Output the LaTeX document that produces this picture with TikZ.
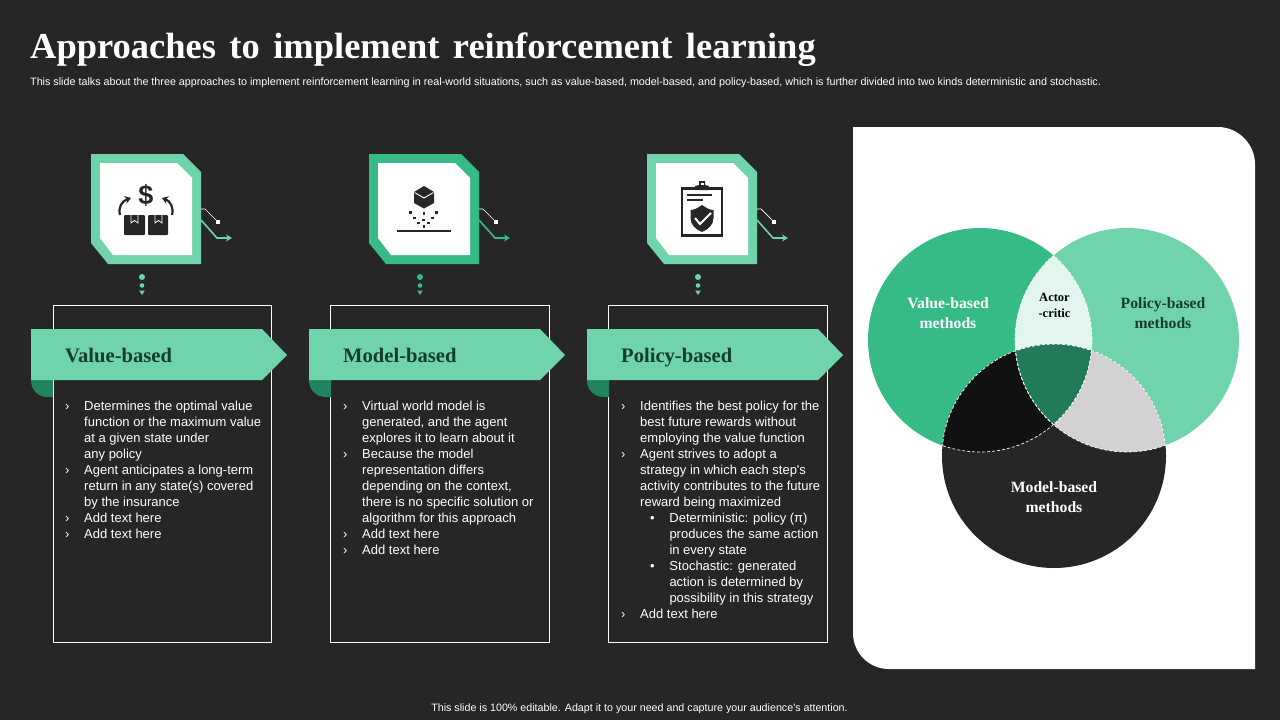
\documentclass[tikz,border=0pt]{standalone}
\usepackage{fontspec}
\setmainfont{Liberation Serif}
\newfontfamily\bodysans{Liberation Sans}
\usetikzlibrary{arrows.meta}
\definecolor{bgdark}{HTML}{262626}
\definecolor{lightgreen}{HTML}{6FD4AC}
\definecolor{midgreen}{HTML}{36BB87}
\definecolor{deepgreen}{HTML}{23835F}
\definecolor{inkgreen}{HTML}{163C2D}
\definecolor{lensgreen}{HTML}{E2F5EE}
\definecolor{lensblack}{HTML}{111111}
\definecolor{lensgrey}{HTML}{D2D2D2}
\definecolor{lenscore}{HTML}{217A58}
\newcommand{\bl}{\makebox[19pt][l]{›}}
\newcommand{\ct}{\hspace*{19pt}}
\newcommand{\sbl}{\hspace*{29pt}\makebox[19.3pt][l]{•}}
\newcommand{\sct}{\hspace*{48.3pt}}
\newcommand{\frameicon}[1]{%
  \fill[#1] (91,154) -- (183,154) -- (201,172) -- (201,264) -- (108,264) -- (91,243) -- cycle;
  \fill[white] (100,163) -- (177,163) -- (192,178) -- (192,255) -- (113,255) -- (100,238) -- cycle;
  \coordinate (wa) at (201,209);
  \coordinate (wb) at (205,209);
  \node[endsquare] (ws) at (218,222) {};
  \draw[linkwhite] (wa) -- (wb) -- (ws);
  \coordinate (ga) at (201,220);
  \coordinate (gb) at (217,238);
  \coordinate (gc) at (232,238);
  \draw[linkgreen=#1] (ga) -- (gb) -- (gc);
  \fill[#1] (142,277) circle (3pt);
  \fill[#1] (142,285.5) circle (2.3pt);
  \fill[#1] (139.2,290.5) -- (144.8,290.5) -- (142,295) -- cycle;
}
\newcommand{\ribbon}[3]{%
  \draw[panelline] (#3,305.5) rectangle (271.5,642);
  \fill[deepgreen] (31,378) -- (53,378) -- (53,397) -- (48,397) .. controls (38,397) and (31,390) .. (31,380) -- cycle;
  \fill[lightgreen] (31,329) -- (262,329) -- (287,355) -- (262,380) -- (31,380) -- cycle;
  \node[ribbontext] (#1) at (65,362) {#2};
}
\tikzset{
  endsquare/.style={fill=white,draw=none,minimum size=3.8pt,inner sep=0pt},
  linkwhite/.style={white,line width=.7pt},
  linkgreen/.style={#1,line width=1.6pt,-{Stealth[length=6pt,width=7pt]}},
  panelline/.style={white,line width=.9pt},
  ribbontext/.style={anchor=base west,inner sep=0pt,text=inkgreen,font=\fontsize{20.6}{24}\selectfont\bfseries},
  bodytext/.style={anchor=north west,inner sep=0pt,align=left,text=white,font=\bodysans\fontsize{13}{16}\selectfont},
  venntext/.style={align=center,inner sep=0pt,font=\fontsize{15.7}{20}\selectfont\bfseries},
  dash line/.style={white,line width=.7pt,densely dashed},
  iconink/.style={bgdark,line width=2.2pt},
}
\begin{document}
\begin{tikzpicture}[x=1pt,y=-1pt]
\useasboundingbox (0,0) rectangle (1280,720);
\fill[bgdark] (0,0) rectangle (1280,720);

\node[anchor=base west,inner sep=0pt,text=white,font=\fontsize{36.5}{40}\selectfont\bfseries] (title) at (30,58)
  {\spaceskip=13.4pt Approaches to implement reinforcement learning};
\node[anchor=base west,inner sep=0pt,text=white,font=\bodysans\fontsize{10.75}{12}\selectfont] (subtitle) at (30,85)
  {This slide talks about the three approaches to implement reinforcement learning in real-world situations, such as value-based, model-based, and policy-based, which is further divided into two kinds deterministic and stochastic.};
\node[inner sep=0pt,text=white,font=\bodysans\fontsize{10.7}{12}\selectfont] (footer) at (639.5,709)
  {This slide is 100\% editable. Adapt it to your need and capture your audience's attention.};

% column 1
\frameicon{lightgreen}
\ribbon{rib1}{Value-based}{53.5}
\node[bodytext] (txt1) at (65,400.5) {\bl Determines the optimal value\\
\ct function or the maximum value\\
\ct at a given state under\\
\ct any policy\\
\bl Agent anticipates a long-term\\
\ct return in any state(s) covered\\
\ct by the insurance\\
\bl Add text here\\
\bl Add text here};
% icon 1
\node[inner sep=0pt,text=bgdark,font=\bodysans\fontsize{27}{30}\selectfont\bfseries] (dollar) at (146,195) {\$};
\fill[bgdark,rounded corners=1pt] (124,215) rectangle (145,235);
\fill[bgdark,rounded corners=1pt] (148,215) rectangle (168,235);
\draw[white,line width=.8pt] (131,215) -- (131,223) -- (134.5,220.5) -- (138,223) -- (138,215);
\draw[white,line width=.8pt] (155,215) -- (155,223) -- (158.5,220.5) -- (162,223) -- (162,215);
\draw[iconink,-{Stealth[length=6pt,width=8pt]}] (120,215) .. controls (118,207) and (122,201) .. (131,198);
\draw[iconink,-{Stealth[length=6pt,width=8pt]}] (172,215) .. controls (174,207) and (170,201) .. (162,198);

% column 2
\begin{scope}[xshift=278pt]
\frameicon{midgreen}
\ribbon{rib2}{Model-based}{52.5}
\node[bodytext] (txt2) at (65,400.5) {\bl Virtual world model is\\
\ct generated, and the agent\\
\ct explores it to learn about it\\
\bl Because the model\\
\ct representation differs\\
\ct depending on the context,\\
\ct there is no specific solution or\\
\ct algorithm for this approach\\
\bl Add text here\\
\bl Add text here};
\end{scope}
% icon 2
\fill[bgdark] (424,186) -- (434,192) -- (434,203) -- (424,208.5) -- (414,203) -- (414,192) -- cycle;
\draw[white,line width=.9pt] (414.5,192.5) -- (424,198) -- (433.5,192.5);
\foreach \px/\py in {410.7/212.3,414.3/218,424/213.7,418.5/223,423.5/220,436.5/212.3,432.7/218,428.6/223,424/226.6}
  \fill[bgdark] (\px-1.4,\py-1.4) rectangle (\px+1.4,\py+1.4);
\draw[bgdark,line width=2.2pt] (397,231.3) -- (451,231.3);

% column 3
\begin{scope}[xshift=556pt]
\frameicon{lightgreen}
\ribbon{rib3}{Policy-based}{52.5}
\node[bodytext] (txt3) at (65,400.5) {\bl Identifies the best policy for the\\
\ct best future rewards without\\
\ct employing the value function\\
\bl Agent strives to adopt a\\
\ct strategy in which each step's\\
\ct activity contributes to the future\\
\ct reward being maximized\\
\sbl Deterministic: policy (π)\\
\sct produces the same action\\
\sct in every state\\
\sbl Stochastic: generated\\
\sct action is determined by\\
\sct possibility in this strategy\\
\bl Add text here};
\end{scope}
% icon 3
\draw[bgdark,line width=2.4pt] (682,188.5) rectangle (722,235.5);
\fill[bgdark] (695,190) -- (695,186) -- (699,185) -- (699,181) -- (705,181) -- (705,185) -- (709,186) -- (709,190) -- cycle;
\fill[white] (700.5,182.5) rectangle (703.5,185);
\draw[bgdark,line width=1.1pt] (687,195) -- (712,195);
\draw[bgdark,line width=1.1pt] (687,200) -- (703,200);
\fill[bgdark] (702,205) .. controls (697,208.5) and (694,210) .. (690.5,210) -- (690.5,218) .. controls (690.5,225) and (696,229.5) .. (702,232) .. controls (708,229.5) and (713.5,225) .. (713.5,218) -- (713.5,210) .. controls (710,210) and (707,208.5) .. (702,205) -- cycle;
\draw[white,line width=2pt] (695,218) -- (700,224) -- (711,213);

% right panel
\fill[white] (853,127) -- (1218,127) .. controls (1238,127) and (1255,144) .. (1255,164) -- (1255,669) -- (889,669) .. controls (869,669) and (853,653) .. (853,633) -- cycle;

% venn
\coordinate (vc) at (980,340);
\coordinate (pc) at (1127,340);
\coordinate (mc) at (1054,456);
\fill[midgreen] (vc) circle (112pt);
\fill[lightgreen] (pc) circle (112pt);
\fill[bgdark] (mc) circle (112pt);
\begin{scope}\clip (vc) circle (112pt); \fill[lensgreen] (pc) circle (112pt); \fill[lensblack] (mc) circle (112pt); \end{scope}
\begin{scope}\clip (pc) circle (112pt); \fill[lensgrey] (mc) circle (112pt); \end{scope}
\begin{scope}\clip (vc) circle (112pt); \clip (pc) circle (112pt); \fill[lenscore] (mc) circle (112pt); \end{scope}
\begin{scope}\clip (vc) circle (112pt); \draw[dash line] (pc) circle (112pt); \draw[dash line] (mc) circle (112pt); \end{scope}
\begin{scope}\clip (pc) circle (112pt); \draw[dash line] (vc) circle (112pt); \draw[dash line] (mc) circle (112pt); \end{scope}
\begin{scope}\clip (mc) circle (112pt); \draw[dash line] (vc) circle (112pt); \draw[dash line] (pc) circle (112pt); \end{scope}

\node[venntext,text=white] (vlabel) at (948,313) {Value-based\\methods};
\node[venntext,text=inkgreen] (plabel) at (1163,313) {Policy-based\\methods};
\node[venntext,text=white] (mlabel) at (1054,497) {Model-based\\methods};
\node[venntext,text=black,font=\fontsize{12.5}{16}\selectfont\bfseries] (alabel) at (1054.5,305) {Actor\\-critic};
\end{tikzpicture}
\end{document}
